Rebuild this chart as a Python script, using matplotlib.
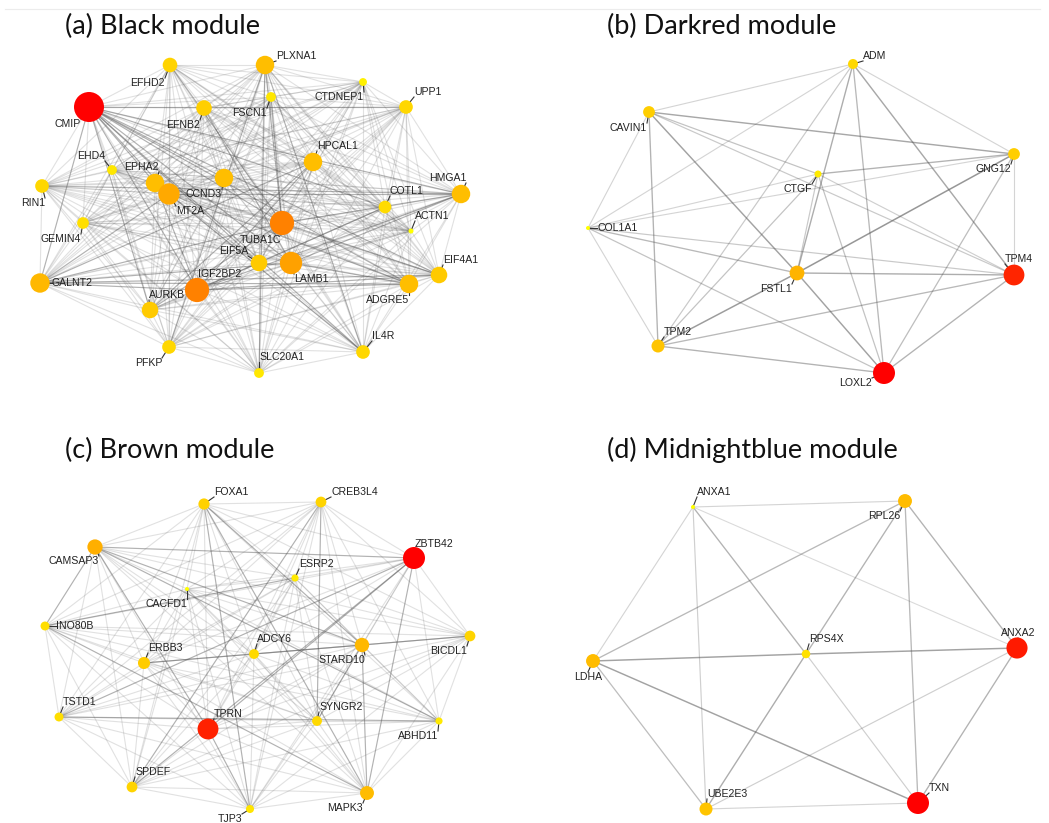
import matplotlib
matplotlib.use("Agg")
import matplotlib.pyplot as plt
from matplotlib.colors import LinearSegmentedColormap
from matplotlib.collections import LineCollection
from matplotlib.lines import Line2D
from itertools import combinations

W, H = 1049, 823

# ---------------- (a) Black module ----------------
black_genes = ["EFHD2", "PLXNA1", "CTDNEP1", "FSCN1", "UPP1", "CMIP", "EFNB2",
               "HPCAL1", "EHD4", "EPHA2", "CCND3", "MT2A", "RIN1", "HMGA1",
               "COTL1", "TUBA1C", "GEMIN4", "ACTN1", "EIF5A", "LAMB1", "EIF4A1",
               "GALNT2", "ADGRE5", "IGF2BP2", "AURKB", "PFKP", "IL4R", "SLC20A1"]
black_x = [170, 265, 363, 271, 406, 89, 204, 313, 112, 155, 224, 169, 42, 461,
           385, 282, 83, 411, 259, 291, 439, 40, 409, 197, 150, 169, 363, 259]
black_y = [65, 65, 82, 97, 107, 107, 108, 162, 170, 183, 178, 194, 186, 194,
           207, 223, 223, 231, 263, 263, 275, 283, 284, 290, 310, 347, 352, 373]
black_degree = [14, 18, 7, 9, 13, 30, 15, 18, 9, 18, 18, 21, 13, 18,
                12, 24, 11, 4, 16, 22, 16, 19, 18, 24, 16, 13, 13, 9]
black_strong = [
    ("CMIP", "UPP1"), ("CMIP", "HMGA1"), ("CMIP", "TUBA1C"), ("CMIP", "LAMB1"),
    ("CMIP", "ADGRE5"), ("CMIP", "IGF2BP2"), ("CMIP", "EIF5A"), ("CMIP", "COTL1"),
    ("CMIP", "EIF4A1"), ("CMIP", "CCND3"), ("CMIP", "MT2A"), ("CMIP", "EPHA2"),
    ("CMIP", "GALNT2"), ("CMIP", "AURKB"), ("CMIP", "IL4R"),
    ("TUBA1C", "PLXNA1"), ("TUBA1C", "FSCN1"), ("TUBA1C", "AURKB"),
    ("TUBA1C", "EIF4A1"), ("TUBA1C", "HMGA1"), ("TUBA1C", "GALNT2"),
    ("TUBA1C", "EFHD2"), ("IGF2BP2", "COTL1"), ("IGF2BP2", "HMGA1"),
    ("IGF2BP2", "GALNT2"), ("IGF2BP2", "HPCAL1"), ("IGF2BP2", "EIF4A1"),
    ("IGF2BP2", "ADGRE5"), ("IGF2BP2", "EPHA2"), ("LAMB1", "GALNT2"),
    ("LAMB1", "HMGA1"), ("LAMB1", "ADGRE5"), ("LAMB1", "EFNB2"),
    ("GALNT2", "ADGRE5"), ("GALNT2", "EIF4A1"), ("GALNT2", "MT2A"),
    ("RIN1", "HMGA1"), ("PLXNA1", "IL4R"), ("PLXNA1", "SLC20A1"),
    ("PLXNA1", "PFKP"), ("MT2A", "HMGA1"), ("MT2A", "ADGRE5"), ("MT2A", "IL4R"),
    ("HPCAL1", "GALNT2"), ("HPCAL1", "AURKB")]

# ---------------- (b) Darkred module ----------------
darkred_genes = ["ADM", "CAVIN1", "GNG12", "CTGF", "COL1A1", "FSTL1", "TPM4",
                 "TPM2", "LOXL2"]
darkred_x = [853, 649, 1014, 818, 588, 797, 1014, 658, 884]
darkred_y = [64, 112, 154, 174, 228, 273, 275, 346, 373]
darkred_degree = [4.0, 4.6, 4.6, 3.0, 2.0, 5.6, 7.6, 5.0, 8.0]
darkred_edges = [
    ("ADM", "CAVIN1", 0.2), ("ADM", "GNG12", 0.2), ("ADM", "COL1A1", 0.2),
    ("ADM", "TPM2", 0.3), ("ADM", "FSTL1", 0.55), ("ADM", "LOXL2", 0.45),
    ("ADM", "TPM4", 0.6), ("CAVIN1", "GNG12", 0.6), ("CAVIN1", "CTGF", 0.35),
    ("CAVIN1", "TPM4", 0.3), ("CAVIN1", "FSTL1", 0.65), ("CAVIN1", "TPM2", 0.5),
    ("CAVIN1", "COL1A1", 0.2), ("CTGF", "GNG12", 0.5), ("CTGF", "TPM2", 0.35),
    ("CTGF", "LOXL2", 0.35), ("CTGF", "TPM4", 0.25), ("CTGF", "FSTL1", 0.3),
    ("CTGF", "COL1A1", 0.2), ("GNG12", "FSTL1", 0.75), ("GNG12", "TPM4", 0.2),
    ("GNG12", "LOXL2", 0.4), ("GNG12", "COL1A1", 0.2), ("COL1A1", "FSTL1", 0.45),
    ("COL1A1", "TPM4", 0.3), ("COL1A1", "LOXL2", 0.35), ("COL1A1", "TPM2", 0.2),
    ("FSTL1", "TPM4", 0.55), ("FSTL1", "LOXL2", 0.65), ("FSTL1", "TPM2", 0.7),
    ("TPM2", "TPM4", 0.45), ("TPM2", "LOXL2", 0.5), ("TPM4", "LOXL2", 0.5)]

# ---------------- (c) Brown module ----------------
brown_genes = ["FOXA1", "CREB3L4", "CAMSAP3", "ZBTB42", "ESRP2", "CACFD1",
               "INO80B", "BICDL1", "STARD10", "ADCY6", "ERBB3", "TSTD1",
               "SYNGR2", "ABHD11", "TPRN", "SPDEF", "MAPK3", "TJP3"]
brown_x = [204, 321, 95, 414, 295, 187, 45, 470, 362, 254, 144, 59, 317, 439,
           208, 132, 367, 250]
brown_y = [504, 502, 547, 558, 578, 589, 626, 636, 645, 654, 663, 717, 721,
           721, 729, 787, 793, 809]
brown_degree = [5.2, 5.0, 7.0, 10.0, 3.4, 2.0, 4.2, 5.0, 6.6, 4.6, 5.6, 4.2,
                4.6, 3.4, 9.5, 5.0, 6.4, 3.8]
brown_strong = [
    ("ERBB3", "ADCY6"), ("ADCY6", "STARD10"), ("STARD10", "BICDL1"),
    ("CAMSAP3", "INO80B"), ("CAMSAP3", "TPRN"), ("CAMSAP3", "STARD10"),
    ("CAMSAP3", "ZBTB42"), ("FOXA1", "STARD10"), ("FOXA1", "MAPK3"),
    ("FOXA1", "TJP3"), ("CREB3L4", "SYNGR2"), ("ZBTB42", "MAPK3"),
    ("ZBTB42", "TPRN"), ("ZBTB42", "SPDEF"), ("STARD10", "SYNGR2"),
    ("STARD10", "MAPK3"), ("INO80B", "MAPK3"), ("TPRN", "TJP3"),
    ("TSTD1", "ABHD11"), ("ESRP2", "INO80B"), ("CAMSAP3", "ABHD11"),
    ("CREB3L4", "SPDEF"), ("ZBTB42", "TSTD1")]

# ---------------- (d) Midnightblue module ----------------
midnight_genes = ["ANXA1", "RPL26", "RPS4X", "LDHA", "ANXA2", "UBE2E3", "TXN"]
midnight_x = [693, 905, 806, 593, 1017, 706, 918]
midnight_y = [507, 501, 654, 661, 648, 809, 803]
midnight_degree = [2.0, 4.2, 3.0, 4.2, 5.8, 4.0, 6.0]
midnight_edges = [
    ("ANXA1", "RPL26", 0.2), ("ANXA1", "LDHA", 0.2), ("ANXA1", "UBE2E3", 0.25),
    ("ANXA1", "RPS4X", 0.5), ("ANXA1", "ANXA2", 0.15), ("RPL26", "LDHA", 0.45),
    ("RPL26", "RPS4X", 0.5), ("RPL26", "TXN", 0.45), ("RPL26", "ANXA2", 0.5),
    ("RPS4X", "UBE2E3", 0.55), ("RPS4X", "TXN", 0.25), ("LDHA", "RPS4X", 0.65),
    ("RPS4X", "ANXA2", 0.65), ("LDHA", "TXN", 0.65), ("LDHA", "UBE2E3", 0.4),
    ("UBE2E3", "TXN", 0.2), ("UBE2E3", "ANXA2", 0.25), ("ANXA2", "TXN", 0.5)]

# label anchor offsets (px from node centre) and horizontal alignment
label_offsets = {
    "EFHD2": (-5, 13, "right"), "PLXNA1": (11, -4, "left"),
    "CTDNEP1": (1, 10, "right"), "FSCN1": (-4, 11, "right"),
    "UPP1": (8, -10, "left"), "CMIP": (-8, 12, "right"),
    "EFNB2": (-4, 12, "right"), "HPCAL1": (4, -11, "left"),
    "EHD4": (-7, -9, "right"), "EPHA2": (4, -11, "right"),
    "CCND3": (-2, 11, "right"), "MT2A": (7, 12, "left"),
    "RIN1": (3, 12, "right"), "HMGA1": (5, -11, "right"),
    "COTL1": (5, -11, "left"), "TUBA1C": (-1, 12, "right"),
    "GEMIN4": (-2, 11, "right"), "ACTN1": (4, -10, "left"),
    "EIF5A": (-11, -7, "right"), "LAMB1": (3, 11, "left"),
    "EIF4A1": (4, -10, "left"), "GALNT2": (12, 0, "left"),
    "ADGRE5": (0, 11, "right"), "IGF2BP2": (1, -11, "left"),
    "AURKB": (-1, -10, "left"), "PFKP": (-7, 11, "right"),
    "IL4R": (9, -11, "left"), "SLC20A1": (0, -11, "left"),
    "ADM": (10, -3, "left"), "CAVIN1": (-2, 11, "right"),
    "CTGF": (-6, 10, "right"), "GNG12": (-3, 10, "right"),
    "COL1A1": (9, 0, "left"), "FSTL1": (-5, 11, "right"),
    "TPM4": (-9, -11, "left"), "TPM2": (6, -9, "left"),
    "LOXL2": (-12, 5, "right"),
    "FOXA1": (10, -7, "left"), "CREB3L4": (10, -5, "left"),
    "CAMSAP3": (4, 9, "right"), "ZBTB42": (1, -9, "left"),
    "ESRP2": (4, -9, "left"), "CACFD1": (0, 10, "right"),
    "INO80B": (11, 0, "left"), "BICDL1": (-3, 10, "right"),
    "STARD10": (3, 10, "right"), "ADCY6": (3, -10, "left"),
    "ERBB3": (4, -10, "left"), "TSTD1": (4, -10, "left"),
    "SYNGR2": (2, -9, "left"), "ABHD11": (-1, 10, "right"),
    "TPRN": (6, -10, "left"), "SPDEF": (3, -10, "left"),
    "MAPK3": (-4, 10, "right"), "TJP3": (-8, 5, "right"),
    "ANXA1": (4, -10, "left"), "RPL26": (-5, 10, "right"),
    "RPS4X": (3, -10, "left"), "LDHA": (-5, 11, "center"),
    "ANXA2": (1, -10, "center"), "UBE2E3": (1, -10, "left"),
    "TXN": (11, -10, "left"),
}

node_cmap = LinearSegmentedColormap.from_list(
    "degree", [(0.0, "#FFFF00"), (0.2, "#FFE600"), (0.45, "#FFCC00"),
               (0.6, "#FFB400"), (0.7, "#FFA000"), (0.77, "#FF8000"),
               (1.0, "#FF0000")])


def draw_panel(ax, genes, xs, ys, degree, r_min, r_max, title, title_xy,
               weighted_edges=None, strong_edges=None):
    pos = {g: (x, y) for g, x, y in zip(genes, xs, ys)}
    d_lo, d_hi = min(degree), max(degree)

    if strong_edges is not None:
        strong = {frozenset(e) for e in strong_edges}
        faint_segs, strong_segs = [], []
        for a, b in combinations(genes, 2):
            seg = [pos[a], pos[b]]
            (strong_segs if frozenset((a, b)) in strong else faint_segs).append(seg)
        ax.add_collection(LineCollection(faint_segs, colors="#6a6a6a",
                                         linewidths=0.8, alpha=0.2, zorder=1))
        ax.add_collection(LineCollection(strong_segs, colors="#555555",
                                         linewidths=0.85, alpha=0.45, zorder=1))
    if weighted_edges is not None:
        for a, b, w in weighted_edges:
            ax.plot([pos[a][0], pos[b][0]], [pos[a][1], pos[b][1]],
                    color="#555555", alpha=0.12 + 0.65 * w,
                    lw=0.7 + 0.55 * w, zorder=1, solid_capstyle="round")

    for g, d in zip(genes, degree):
        x, y = pos[g]
        dx, dy, ha = label_offsets[g]
        ax.plot([x, x + dx], [y, y + dy], color="#333333", lw=0.8, zorder=2)
        va = "top" if dy > 0 else ("bottom" if dy < 0 else "center")
        ax.text(x + dx, y + dy, g, ha=ha, va=va, fontsize=7.6,
                family="Liberation Sans", color="#222222", zorder=4)

    sc = [(d - d_lo) / (d_hi - d_lo) for d in degree]
    radii = [r_min + s * (r_max - r_min) for s in sc]
    sizes = [(2 * r * 0.72) ** 2 for r in radii]
    ax.scatter(xs, ys, s=sizes, c=[node_cmap(s) for s in sc],
               edgecolors="none", zorder=3, clip_on=False)

    ax.text(title_xy[0], title_xy[1], title, fontsize=19.5, family="Lato",
            color="#111111", ha="left", va="baseline")


fig = plt.figure(figsize=(W / 100, H / 100), dpi=100)
fig.patch.set_facecolor("white")

quadrants = {
    "a": ([0, 0.5, 0.5, 0.5], (0, W / 2), (H / 2, 0)),
    "b": ([0.5, 0.5, 0.5, 0.5], (W / 2, W), (H / 2, 0)),
    "c": ([0, 0, 0.5, 0.5], (0, W / 2), (H, H / 2)),
    "d": ([0.5, 0, 0.5, 0.5], (W / 2, W), (H, H / 2)),
}
axes = {}
for k, (rect, xl, yl) in quadrants.items():
    ax = fig.add_axes(rect)
    ax.set_xlim(*xl)
    ax.set_ylim(*yl)
    ax.axis("off")
    axes[k] = ax

draw_panel(axes["a"], black_genes, black_x, black_y, black_degree, 2.5, 15,
           "(a) Black module", (65, 34), strong_edges=black_strong)
draw_panel(axes["b"], darkred_genes, darkred_x, darkred_y, darkred_degree, 2, 11,
           "(b) Darkred module", (607, 34), weighted_edges=darkred_edges)
draw_panel(axes["c"], brown_genes, brown_x, brown_y, brown_degree, 2, 11,
           "(c) Brown module", (65, 458), strong_edges=brown_strong)
draw_panel(axes["d"], midnight_genes, midnight_x, midnight_y, midnight_degree,
           2, 11, "(d) Midnightblue module", (607, 458),
           weighted_edges=midnight_edges)

fig.add_artist(Line2D([5 / W, 1040 / W], [1 - 9 / H, 1 - 9 / H],
                      color="#ececec", lw=0.8))

fig.savefig("out.png", dpi=100, facecolor="white")
